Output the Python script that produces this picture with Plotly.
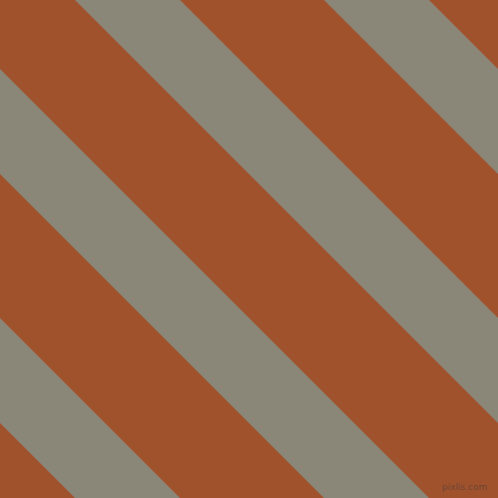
import plotly.graph_objects as go

SIZE = 498

# stripe data: offsets of grey bands measured as (x - y) at the top edge
stripe_starts = [-423, -174, 75, 324]
stripe_width = 105

BG_COLOR = '#A0522D'
STRIPE_COLOR = '#8B8778'

fig = go.Figure()

for c0 in stripe_starts:
  c1 = c0 + stripe_width
  y_top, y_bot = -20, SIZE + 20
  xs = [c0 + y_top, c1 + y_top, c1 + y_bot, c0 + y_bot, c0 + y_top]
  ys = [y_top, y_top, y_bot, y_bot, y_top]
  fig.add_trace(go.Scatter(x=xs, y=ys, mode='lines', fill='toself',
                           fillcolor=STRIPE_COLOR, line=dict(width=0),
                           hoverinfo='skip', showlegend=False))

fig.add_annotation(x=489, y=487, xanchor='right', yanchor='middle',
                   text='pixlis.com', showarrow=False,
                   font=dict(family='DejaVu Sans', size=9, color='#6e4634'))

fig.update_xaxes(range=[0, SIZE], visible=False, fixedrange=True)
fig.update_yaxes(range=[SIZE, 0], visible=False, fixedrange=True)
fig.update_layout(width=SIZE, height=SIZE,
                  margin=dict(l=0, r=0, t=0, b=0),
                  paper_bgcolor=BG_COLOR, plot_bgcolor=BG_COLOR)

# drop the default page margin so the figure fills the window
fig.write_html("out.html", config=dict(displayModeBar=False),
               post_script="document.body.style.margin='0';"
                           "document.body.style.overflow='hidden';")
